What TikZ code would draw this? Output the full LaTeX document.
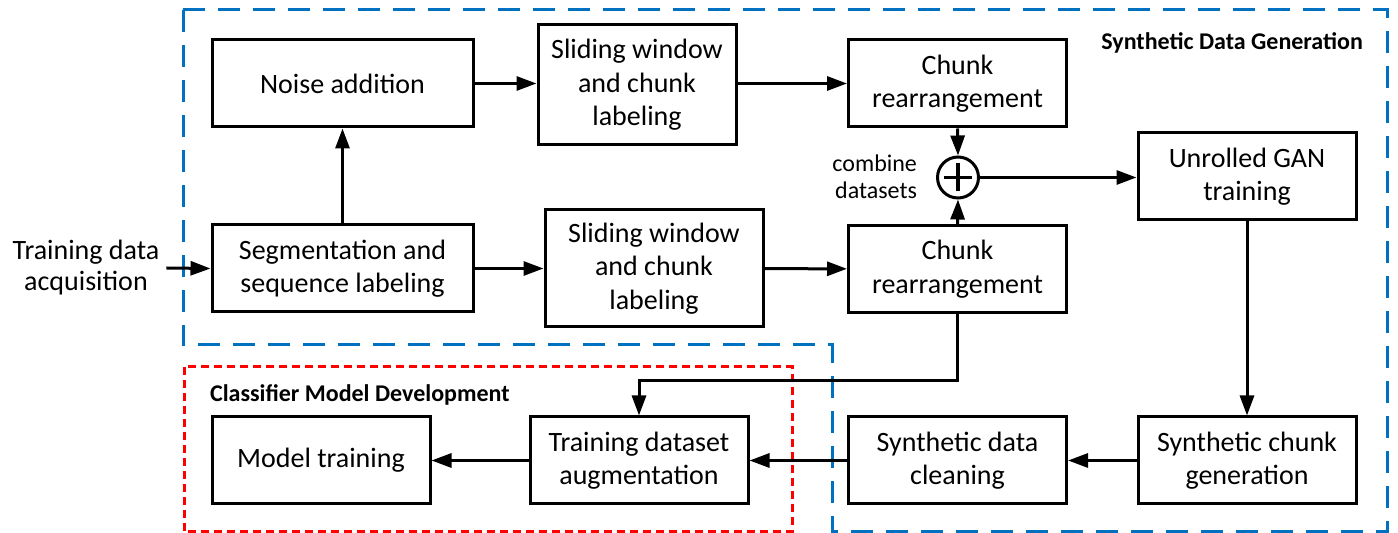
\documentclass[tikz,border=0pt]{standalone}
\usepackage{fontspec}
\setmainfont{Carlito}
\usetikzlibrary{positioning, arrows.meta}
\definecolor{azul}{RGB}{0,112,192}

\begin{document}
\begin{tikzpicture}
            [
                x=0.5pt, y=-0.5pt,
                bloco/.style={draw, line width=1.5pt, align=center, inner sep=0pt, font=\fontsize{14}{16.75}\selectfont},
                largo/.style={bloco, minimum width=130.5pt, minimum height=43.5pt},
                normal/.style={bloco, minimum width=109pt, minimum height=43.5pt},
                janela/.style={bloco, minimum width=109pt, minimum height=58.5pt},
                soma/.style={circle, draw, line width=1.5pt, minimum size=20.5pt, inner sep=0pt,
                    path picture={\draw[line width=1.6pt]
                        ([xshift=-7pt]path picture bounding box.center) -- ([xshift=7pt]path picture bounding box.center)
                        ([yshift=-7pt]path picture bounding box.center) -- ([yshift=7pt]path picture bounding box.center);}},
                seta/.style={line width=1.5pt, -{Triangle[length=10pt, width=7pt]}},
                titulo/.style={font=\fontsize{12}{14}\selectfont\bfseries},
                texto/.style={align=center, font=\fontsize{14}{15.5}\selectfont},
            ]
            \useasboundingbox (0,0) rectangle (1398,533);
            % grupos
            \draw[azul, line width=1.5pt, dash pattern=on 11pt off 6.5pt]
                (183,10) -- (1387,10) -- (1387,532) -- (832,532) -- (832,345) -- (183,345) -- cycle;
            \draw[red, line width=1.5pt, dash pattern=on 4pt off 2.5pt]
                (184,367) rectangle (792,532);
            \node[titulo, anchor=east] (tsint) at (1370,43) {Synthetic Data Generation};
            \node[titulo, anchor=west] (tclass) at (203,395) {Classifier Model Development};
            % entrada
            \node[texto] (aquis) at (86,268) {Training data\\acquisition};
            % ramo de cima
            \node[largo] (ruido) at (342.5,83.5) {Noise addition};
            \node[janela, minimum width=99pt, minimum height=60pt] (janela1) at (637,85) {Sliding window\\and chunk\\labeling};
            \node[normal] (chunk1) at (957.5,83.5) {Chunk\\rearrangement};
            % ramo de baixo
            \node[largo] (segm) at (342.5,268.5) {Segmentation and\\sequence labeling};
            \node[janela] (janela2) at (654,268.5) {Sliding window\\and chunk\\labeling};
            \node[normal] (chunk2) at (957.5,269) {Chunk\\rearrangement};
            % combinação e GAN
            \node[soma] (comb) at (958,177.5) {};
            \node[texto, font=\fontsize{12}{13.5}\selectfont, align=right, anchor=east] (tcomb) at (924,177) {combine\\datasets};
            \node[normal] (gan) at (1247,176.5) {Unrolled GAN\\training};
            \node[normal] (geracao) at (1247,460.5) {Synthetic chunk\\generation};
            \node[normal] (limpeza) at (957.5,460.5) {Synthetic data\\cleaning};
            % classificador
            \node[normal] (aument) at (639,460.5) {Training dataset\\augmentation};
            \node[normal] (modelo) at (321,460.5) {Model training};
            \coordinate (desvio) at (957.5,381);

            \draw[seta] (aquis.east) -- (segm.west);
            \draw[seta] (segm.north) -- (ruido.south);
            \draw[seta] (ruido.east) -- (janela1.west |- ruido.east);
            \draw[seta] (janela1.east |- chunk1.west) -- (chunk1.west);
            \draw[seta] (segm) -- (janela2);
            \draw[seta] (janela2) -- (chunk2);
            \draw[seta] (chunk1.south) -- (comb.north);
            \draw[seta] (chunk2.north) -- (comb.south);
            \draw[seta] (comb.east) -- (gan.west |- comb.east);
            \draw[seta] (gan.south) -- (geracao.north);
            \draw[seta] (geracao) -- (limpeza);
            \draw[seta] (limpeza) -- (aument);
            \draw[seta] (aument) -- (modelo);
            \draw[seta] (chunk2.south) -- (desvio) -| (aument.north);
        \end{tikzpicture}
\end{document}
